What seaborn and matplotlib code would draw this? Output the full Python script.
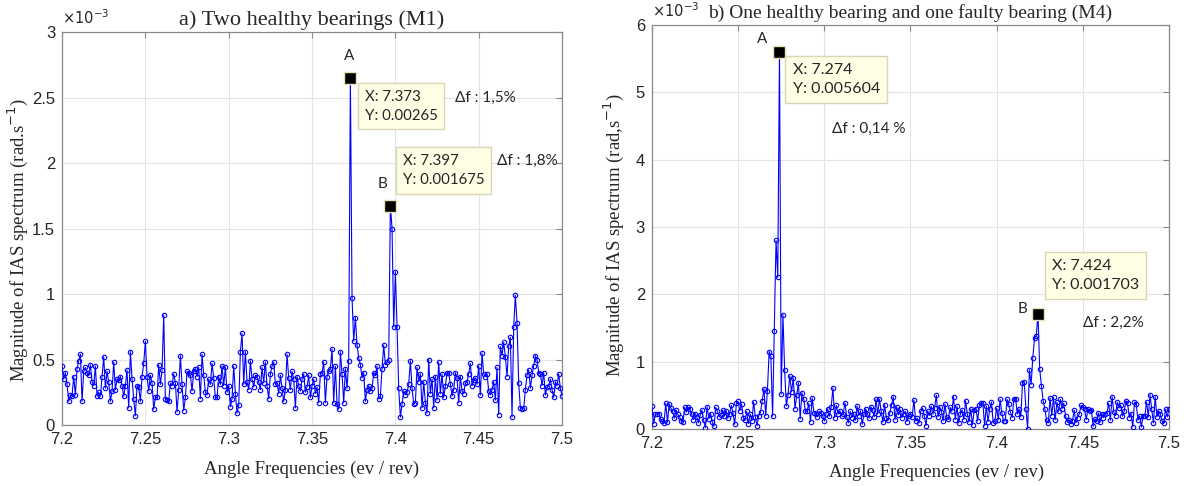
import numpy as np
import matplotlib
matplotlib.use("Agg")
import matplotlib.pyplot as plt
import seaborn as sns

# IAS spectrum magnitudes (x 1e-3 rad/s), one bin every 0.001 ev/rev from 7.200 to 7.500
mag_m1 = [
    0.45, 0.35, 0.40, 0.31, 0.18, 0.23, 0.22, 0.37, 0.23, 0.43,
    0.49, 0.54, 0.18, 0.41, 0.44, 0.40, 0.38, 0.46, 0.33, 0.30,
    0.45, 0.22, 0.25, 0.22, 0.37, 0.52, 0.28, 0.41, 0.33, 0.18,
    0.26, 0.48, 0.27, 0.35, 0.34, 0.37, 0.30, 0.22, 0.30, 0.42,
    0.13, 0.56, 0.35, 0.20, 0.07, 0.30, 0.29, 0.18, 0.37, 0.47,
    0.64, 0.37, 0.26, 0.38, 0.32, 0.12, 0.21, 0.21, 0.46, 0.31,
    0.42, 0.84, 0.20, 0.19, 0.18, 0.32, 0.30, 0.39, 0.32, 0.10,
    0.27, 0.53, 0.31, 0.11, 0.21, 0.41, 0.40, 0.38, 0.26, 0.41,
    0.43, 0.37, 0.44, 0.20, 0.54, 0.38, 0.25, 0.23, 0.35, 0.31,
    0.47, 0.36, 0.21, 0.21, 0.37, 0.31, 0.45, 0.30, 0.44, 0.25,
    0.30, 0.14, 0.20, 0.45, 0.24, 0.09, 0.15, 0.56, 0.70, 0.31,
    0.56, 0.33, 0.27, 0.49, 0.35, 0.29, 0.38, 0.37, 0.33, 0.27,
    0.44, 0.32, 0.48, 0.30, 0.20, 0.39, 0.45, 0.48, 0.31, 0.32,
    0.24, 0.38, 0.28, 0.18, 0.27, 0.54, 0.36, 0.27, 0.41, 0.35,
    0.13, 0.37, 0.30, 0.26, 0.35, 0.39, 0.25, 0.29, 0.38, 0.21,
    0.30, 0.35, 0.24, 0.29, 0.17, 0.39, 0.40, 0.48, 0.17, 0.37,
    0.41, 0.43, 0.58, 0.17, 0.45, 0.16, 0.12, 0.56, 0.39, 0.17,
    0.43, 0.28, 0.49, 2.65, 0.97, 0.64, 0.82, 0.61, 0.51, 0.46,
    0.36, 0.40, 0.18, 0.27, 0.30, 0.26, 0.28, 0.40, 0.38, 0.45,
    0.20, 0.22, 0.43, 0.61, 0.46, 0.48, 0.50, 1.675, 1.50, 0.75,
    1.17, 0.75, 0.28, 0.06, 0.16, 0.26, 0.23, 0.25, 0.31, 0.49,
    0.28, 0.16, 0.17, 0.44, 0.33, 0.39, 0.13, 0.33, 0.17, 0.09,
    0.50, 0.24, 0.35, 0.13, 0.37, 0.19, 0.48, 0.24, 0.39, 0.21,
    0.30, 0.40, 0.40, 0.31, 0.22, 0.27, 0.40, 0.36, 0.17, 0.37,
    0.26, 0.24, 0.32, 0.33, 0.39, 0.47, 0.30, 0.34, 0.36, 0.31,
    0.45, 0.23, 0.55, 0.39, 0.37, 0.39, 0.26, 0.23, 0.27, 0.33,
    0.19, 0.44, 0.08, 0.60, 0.53, 0.63, 0.52, 0.37, 0.60, 0.67,
    0.06, 0.75, 0.99, 0.78, 0.32, 0.13, 0.12, 0.13, 0.27, 0.38,
    0.42, 0.28, 0.38, 0.45, 0.53, 0.50, 0.40, 0.39, 0.30, 0.40,
    0.23, 0.29, 0.30, 0.35, 0.27, 0.21, 0.33, 0.30, 0.39, 0.28,
    0.22,
]

mag_m4 = [
    0.34, 0.08, 0.22, 0.22, 0.23, 0.15, 0.12, 0.09, 0.38, 0.10,
    0.37, 0.31, 0.26, 0.16, 0.28, 0.22, 0.18, 0.12, 0.10, 0.32,
    0.25, 0.32, 0.30, 0.22, 0.14, 0.23, 0.18, 0.09, 0.21, 0.28,
    0.13, 0.02, 0.33, 0.15, 0.23, 0.10, 0.04, 0.32, 0.26, 0.18,
    0.21, 0.28, 0.19, 0.27, 0.16, 0.22, 0.35, 0.24, 0.07, 0.38,
    0.41, 0.27, 0.37, 0.17, 0.13, 0.26, 0.08, 0.22, 0.12, 0.40,
    0.18, 0.05, 0.20, 0.25, 0.42, 0.60, 0.20, 0.57, 1.15, 1.08,
    0.19, 1.46, 2.80, 2.25, 5.604, 0.52, 1.70, 0.87, 0.34, 0.51,
    0.79, 0.55, 0.76, 0.30, 0.50, 0.69, 0.15, 0.54, 0.45, 0.27,
    0.26, 0.38, 0.11, 0.46, 0.24, 0.22, 0.18, 0.26, 0.24, 0.20,
    0.12, 0.23, 0.30, 0.19, 0.33, 0.61, 0.17, 0.35, 0.22, 0.27,
    0.20, 0.22, 0.39, 0.18, 0.09, 0.26, 0.17, 0.23, 0.13, 0.34,
    0.20, 0.27, 0.07, 0.22, 0.30, 0.23, 0.16, 0.33, 0.28, 0.18,
    0.44, 0.22, 0.44, 0.27, 0.10, 0.36, 0.17, 0.13, 0.24, 0.35,
    0.48, 0.14, 0.33, 0.21, 0.29, 0.17, 0.22, 0.26, 0.11, 0.20,
    0.23, 0.18, 0.43, 0.12, 0.16, 0.09, 0.26, 0.31, 0.20, 0.05,
    0.27, 0.20, 0.34, 0.22, 0.31, 0.50, 0.18, 0.33, 0.25, 0.12,
    0.37, 0.18, 0.15, 0.32, 0.26, 0.48, 0.14, 0.34, 0.09, 0.23,
    0.28, 0.14, 0.42, 0.22, 0.10, 0.30, 0.06, 0.28, 0.30, 0.12,
    0.35, 0.39, 0.39, 0.05, 0.34, 0.11, 0.30, 0.40, 0.09, 0.12,
    0.31, 0.14, 0.44, 0.24, 0.12, 0.12, 0.44, 0.37, 0.25, 0.17,
    0.45, 0.45, 0.22, 0.30, 0.18, 0.68, 0.70, 0.30, 0.00, 0.88,
    0.66, 1.06, 1.35, 1.38, 1.703, 0.89, 0.64, 0.42, 0.30, 0.13,
    0.09, 0.46, 0.20, 0.47, 0.14, 0.40, 0.26, 0.44, 0.30, 0.38,
    0.19, 0.10, 0.14, 0.08, 0.12, 0.28, 0.09, 0.17, 0.23, 0.35,
    0.33, 0.29, 0.14, 0.30, 0.27, 0.28, 0.04, 0.15, 0.12, 0.24,
    0.10, 0.23, 0.17, 0.22, 0.24, 0.38, 0.13, 0.48, 0.25, 0.20,
    0.40, 0.31, 0.36, 0.19, 0.26, 0.42, 0.38, 0.17, 0.23, 0.03,
    0.40, 0.37, 0.13, 0.19, 0.03, 0.20, 0.19, 0.40, 0.18, 0.51,
    0.29, 0.09, 0.48, 0.18, 0.27, 0.22, 0.12, 0.09, 0.29, 0.18,
    0.30,
]

freq_start, freq_step = 7.200, 0.001

# marked peaks (data tips)
peaks_m1 = {"A": (7.373, 2.65, "0.00265"), "B": (7.397, 1.675, "0.001675")}
peaks_m4 = {"A": (7.274, 5.604, "0.005604"), "B": (7.424, 1.703, "0.001703")}

xticks = [7.2, 7.25, 7.3, 7.35, 7.4, 7.45, 7.5]
xtick_labels = ["7.2", "7.25", "7.3", "7.35", "7.4", "7.45", "7.5"]
yticks_m1 = [0, 0.5, 1, 1.5, 2, 2.5, 3]
yticks_m4 = [0, 1, 2, 3, 4, 5, 6]

sns.set_style("white")
plt.rcParams["font.family"] = ["Liberation Sans", "DejaVu Sans"]

serif = ["Liberation Serif", "DejaVu Serif"]
tipfont = ["Lato", "DejaVu Sans"]

fig = plt.figure(figsize=(11.91, 4.86), dpi=100)
ax1 = fig.add_axes([0.0521, 0.1255, 0.4198, 0.8086])
ax2 = fig.add_axes([0.5474, 0.1173, 0.4341, 0.8313])


def draw_panel(ax, mag, ymax, yticks, title, title_size, ylabel):
    freq = np.round(freq_start + freq_step * np.arange(len(mag)), 3)
    sns.lineplot(x=freq, y=mag, ax=ax, color="#0000ff", linewidth=0.8,
                 marker="o", markersize=3.2, markerfacecolor="none",
                 markeredgecolor="#0000ff", markeredgewidth=0.8, zorder=3)
    ax.set_xlim(7.2, 7.5)
    ax.set_ylim(0, ymax)
    ax.set_xticks(xticks)
    ax.set_xticklabels(xtick_labels)
    ax.set_yticks(yticks)
    ax.set_yticklabels([f"{t:g}" for t in yticks])
    ax.grid(True, color="#e3e3e3", linewidth=0.8)
    ax.set_axisbelow(True)
    for s in ax.spines.values():
        s.set_color("#8a8a8a")
        s.set_linewidth(0.9)
    ax.tick_params(direction="in", top=True, right=True, length=4,
                   color="#8a8a8a", labelsize=12, labelcolor="#262626", pad=5)
    ax.set_title(title, fontsize=title_size, family=serif, pad=5)
    ax.set_xlabel("Angle Frequencies (ev / rev)", fontsize=13.5, family=serif, labelpad=10)
    ax.set_ylabel(ylabel, fontsize=13.5, family=serif, labelpad=3)
    ax.text(0.0, 1.012, r"$\times10^{-3}$", transform=ax.transAxes, fontsize=10.5,
            color="#262626", va="bottom", ha="left")


def data_tip(ax, x, y, yval, tx, ty, size):
    ax.plot([x], [y], marker="s", markersize=8.5, color="black",
            markeredgecolor="#e8e4b8", markeredgewidth=1, zorder=5)
    ax.text(tx, ty, f"X: {x:.3f}\nY: {yval}", family=tipfont, fontsize=size,
            va="top", ha="left", linespacing=1.45, zorder=6,
            bbox=dict(boxstyle="square,pad=0.45", fc="#ffffe6", ec="#d9d6b4", lw=1))


draw_panel(ax1, mag_m1, 3, yticks_m1, "a) Two healthy bearings (M1)", 16,
           r"Magnitude of IAS spectrum (rad.s$^{-1}$)")
draw_panel(ax2, mag_m4, 6, yticks_m4, "b) One healthy bearing and one faulty bearing (M4)", 14,
           r"Magnitude of IAS spectrum (rad,s$^{-1}$)")
ax1.yaxis.set_label_coords(-0.064, 0.47)
ax2.yaxis.set_label_coords(-0.05, 0.48)
ax2.xaxis.set_label_coords(0.55, -0.085)

# panel a annotations
xa, ya, sa = peaks_m1["A"]
xb, yb, sb = peaks_m1["B"]
data_tip(ax1, xa, ya, sa, 7.3815, 2.56, 10.8)
data_tip(ax1, xb, yb, sb, 7.4045, 2.07, 10.8)
ax1.text(xa - 0.0005, 2.82, "A", family=tipfont, fontsize=11, ha="center", va="center")
ax1.text(xb - 0.0045, 1.84, "B", family=tipfont, fontsize=11, ha="center", va="center")
ax1.text(7.436, 2.50, "\u0394f : 1,5%", family=tipfont, fontsize=11, va="center")
ax1.text(7.461, 2.02, "\u0394f : 1,8%", family=tipfont, fontsize=11, va="center")

# panel b annotations
xa, ya, sa = peaks_m4["A"]
xb, yb, sb = peaks_m4["B"]
data_tip(ax2, xa, ya, sa, 7.2816, 5.43, 11.5)
data_tip(ax2, xb, yb, sb, 7.432, 2.52, 11.5)
ax2.text(7.264, 5.79, "A", family=tipfont, fontsize=11, ha="center", va="center")
ax2.text(7.415, 1.78, "B", family=tipfont, fontsize=11, ha="center", va="center")
ax2.text(7.3046, 4.45, "\u0394f : 0,14 %", family=tipfont, fontsize=11, va="center")
ax2.text(7.450, 1.58, "\u0394f : 2,2%", family=tipfont, fontsize=11, va="center")

fig.savefig("out.png", dpi=100)
